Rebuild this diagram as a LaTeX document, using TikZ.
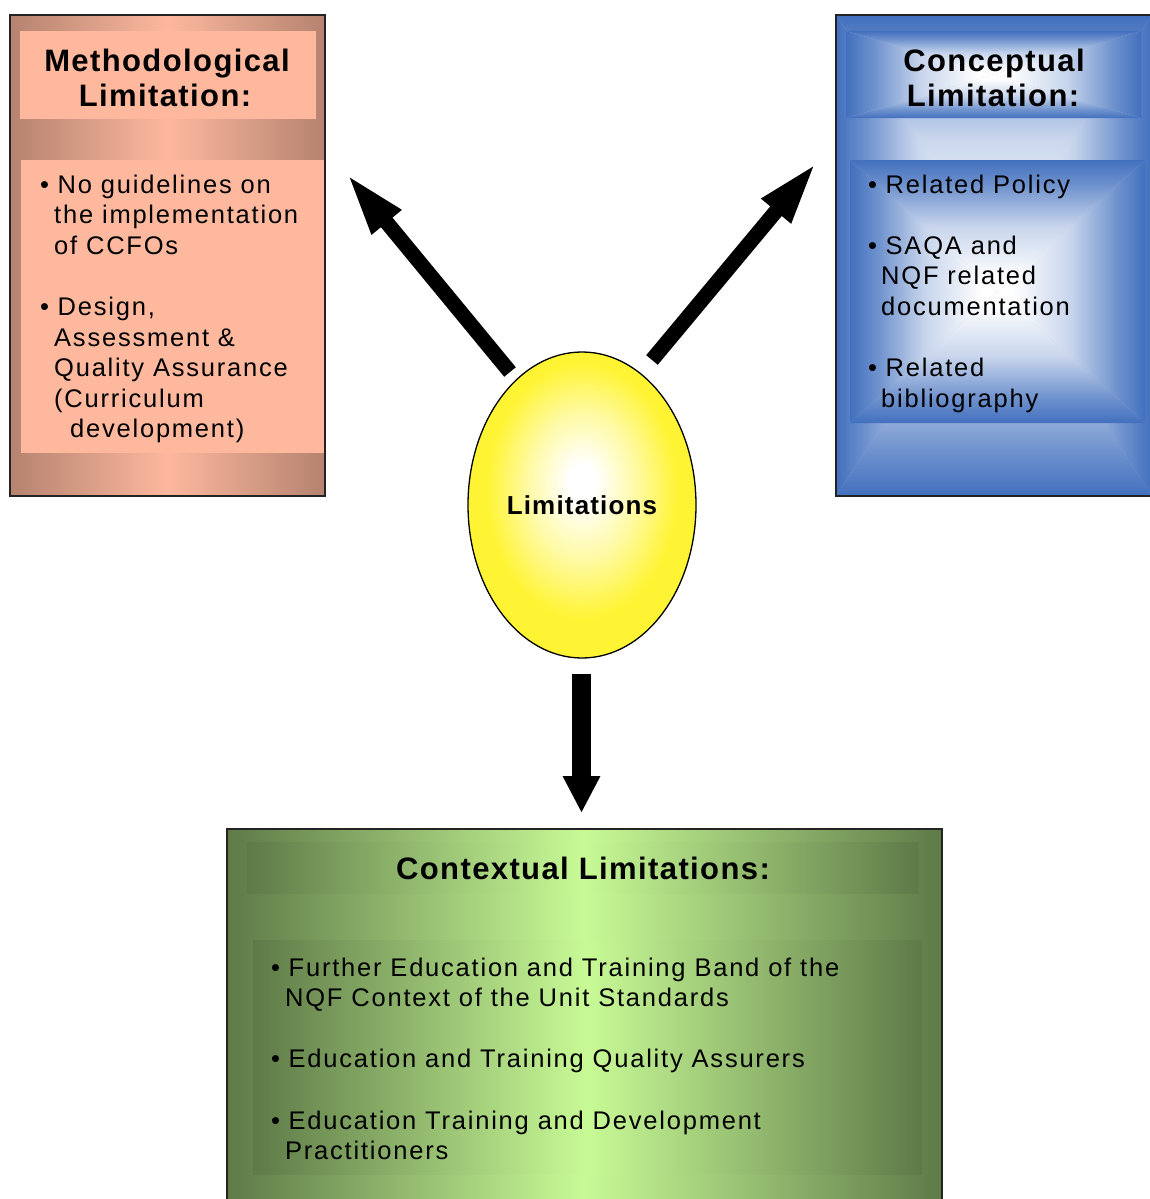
\documentclass[tikz,border=0pt]{standalone}
\usepackage{fontspec}
\setmainfont{Liberation Sans}
\newfontfamily\bodyfont{Liberation Sans}[LetterSpace=7]
\newfontfamily\headfont{Liberation Sans}[LetterSpace=4.5]
\usetikzlibrary{arrows.meta,shapes.geometric}

\definecolor{mbrown}{RGB}{181,131,112}
\definecolor{mpeach}{RGB}{253,184,158}
\definecolor{cblue}{RGB}{66,112,190}
\definecolor{gdark}{RGB}{94,122,72}
\definecolor{glight}{RGB}{200,250,150}
\definecolor{lyellow}{RGB}{255,244,51}
\definecolor{frame}{RGB}{35,35,35}

% blue edge fading to white towards the centre (used in four rotated copies)
\pgfdeclareverticalshading{edgeglow}{100bp}{color(0bp)=(white); color(30bp)=(white);
  color(50bp)=(cblue!30!white); color(65bp)=(cblue!75!white); color(75bp)=(cblue); color(100bp)=(cblue)}
% yellow ball with a white highlight slightly above the middle
\pgfdeclareradialshading{limglow}{\pgfpoint{0bp}{4bp}}{color(0bp)=(white); color(3bp)=(white);
  color(12bp)=(lyellow!45!white); color(21bp)=(lyellow); color(50bp)=(lyellow)}

% rectangle shaded from its border to its centre: #1,#2 top left, #3,#4 bottom right
\newcommand\glowbox[4]{%
  \fill[cblue!45!white] (#1,#2) rectangle (#3,#4);
  \shade[shading=edgeglow] (#1,#2) -- (#3,#2) -- ({(#1+#3)/2},{(#2+#4)/2}) -- cycle;
  \shade[shading=edgeglow,shading angle=180] (#1,#4) -- (#3,#4) -- ({(#1+#3)/2},{(#2+#4)/2}) -- cycle;
  \shade[shading=edgeglow,shading angle=90] (#1,#2) -- (#1,#4) -- ({(#1+#3)/2},{(#2+#4)/2}) -- cycle;
  \shade[shading=edgeglow,shading angle=-90] (#3,#2) -- (#3,#4) -- ({(#1+#3)/2},{(#2+#4)/2}) -- cycle;
}
\newcommand\itembullet{\makebox[17.5pt][l]{\textbullet}}

\tikzset{
  boxframe/.style={draw=frame, line width=2pt},
  greenfade/.style={left color=gdark, right color=gdark, middle color=glight},
  textline/.style={anchor=base west, inner sep=0pt, font=\bodyfont\fontsize{25.5}{30.6}\selectfont},
  headline/.style={anchor=base, inner sep=0pt, font=\headfont\bfseries\fontsize{31}{35}\selectfont},
  blockarrow/.style={line width=15pt, -{Triangle[length=64pt,width=34pt]}},
}

\begin{document}
\begin{tikzpicture}[x=1pt,y=-1pt]
\useasboundingbox (0,0) rectangle (1149,1199);

% ---- Methodological limitation box
\shade[left color=mbrown, right color=mbrown, middle color=mpeach] (10,15) rectangle (325,496);
\fill[mpeach] (20,31) rectangle (316,119);
\fill[mpeach] (21,160) rectangle (324,453);
\draw[boxframe] (10,15) rectangle (325,496);
\node[headline] (mh1) at (167,71) {Methodological};
\node[headline] (mh2) at (165,106) {Limitation:};
\node[textline] (m1) at (40,193) {\itembullet No guidelines on};
\node[textline] (m2) at (54,223.6) {the implementation};
\node[textline] (m3) at (54,254.2) {of CCFOs};
\node[textline] (m4) at (40,315.4) {\itembullet Design,};
\node[textline] (m5) at (54,346) {Assessment \&};
\node[textline] (m6) at (54,376.6) {Quality Assurance};
\node[textline] (m7) at (54,407.2) {(Curriculum};
\node[textline] (m8) at (70,437.8) {development)};

% ---- Conceptual limitation box
\glowbox{836}{15}{1152}{496}
\glowbox{846}{31}{1141}{118}
\glowbox{850}{160}{1145}{423}
\draw[boxframe] (836,15) rectangle (1152,496);
\node[headline] (ch1) at (994,71) {Conceptual};
\node[headline] (ch2) at (993,106) {Limitation:};
\node[textline] (c1) at (868,193) {\itembullet Related Policy};
\node[textline] (c2) at (868,254.2) {\itembullet SAQA and};
\node[textline] (c3) at (881,284.8) {NQF related};
\node[textline] (c4) at (881,315.4) {documentation};
\node[textline] (c5) at (868,376.6) {\itembullet Related};
\node[textline] (c6) at (881,407.2) {bibliography};

% ---- Contextual limitations box
\shade[greenfade] (227,829) rectangle (942,1203);
\shade[greenfade] (247,842) rectangle (918,893);
\shade[greenfade] (253,940) rectangle (922,1174);
\draw[boxframe] (227,829) rectangle (942,1203);
\node[headline] (xh) at (583,879) {Contextual Limitations:};
\node[textline] (x1) at (271,976) {\itembullet Further Education and Training Band of the};
\node[textline] (x2) at (285,1006.6) {NQF Context of the Unit Standards};
\node[textline] (x3) at (271,1067.8) {\itembullet Education and Training Quality Assurers};
\node[textline] (x4) at (271,1129) {\itembullet Education Training and Development};
\node[textline] (x5) at (285,1159.6) {Practitioners};

% ---- centre
\node[ellipse, draw=black, line width=1.3pt, minimum width=228pt, minimum height=306pt,
      inner sep=0pt, shade, shading=limglow,
      font=\headfont\bfseries\fontsize{26}{30}\selectfont] (lim) at (582,505) {Limitations};

% ---- arrows leaving the centre
\coordinate (mtail) at (510,372);
\coordinate (mtip) at (346,173);
\coordinate (ctail) at (652,360);
\coordinate (ctip) at (817,162);
\coordinate (xtail) at (581.5,674);
\coordinate (xtip) at (581.5,813);
\draw[blockarrow] (mtail) -- (mtip);
\draw[blockarrow] (ctail) -- (ctip);
\draw[line width=19pt, -{Triangle[length=37pt,width=35pt]}] (xtail) -- (xtip);
\end{tikzpicture}
\end{document}
